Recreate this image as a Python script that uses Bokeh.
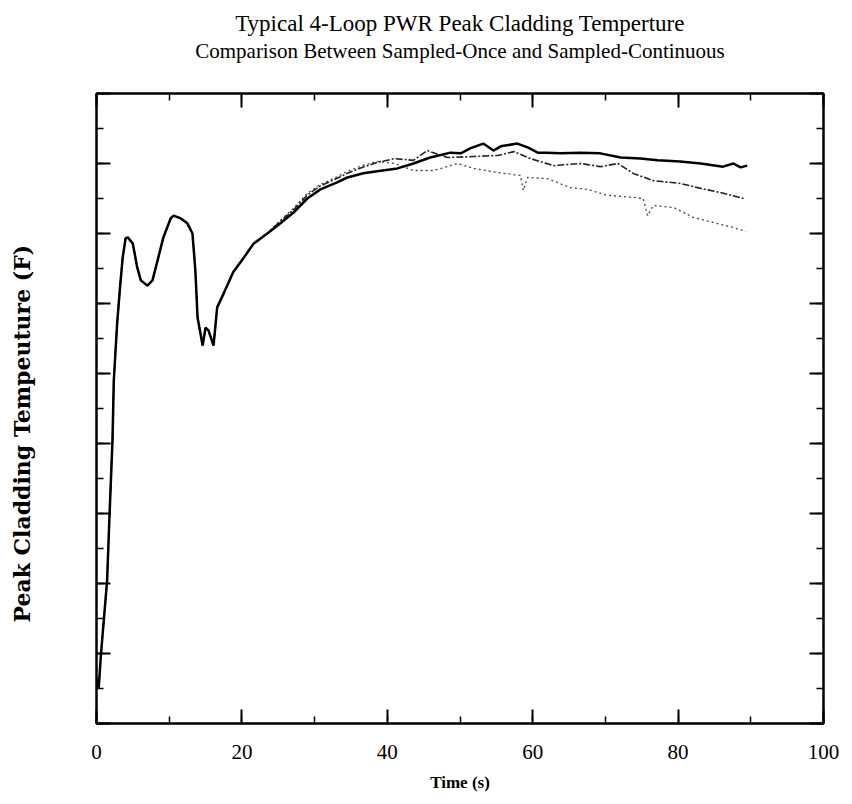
from bokeh.plotting import figure
from bokeh.models import (Range1d, LinearAxis, SingleIntervalTicker, CustomJSTickFormatter, Title)
from bokeh.embed import file_html
from bokeh.resources import INLINE

# ---- data (time in s, temperature in F) ----
time_shared = [0.0, 0.3, 0.6, 1.0, 1.46, 1.8, 2.2, 2.38, 2.84, 3.2, 3.6, 4.0, 4.3, 5.0, 5.6,
               6.1, 7.0, 7.7, 8.4, 9.2, 10.2, 10.6, 11.6, 12.5, 13.2, 13.6, 13.9, 14.6, 15.0,
               15.4, 16.1, 16.6, 17.5, 18.8, 20.2, 21.6, 23.5]
temp_shared = [529, 500, 594, 694, 809, 1000, 1209, 1380, 1543, 1637, 1731, 1786, 1789, 1771, 1703,
               1666, 1651, 1666, 1723, 1789, 1843, 1851, 1843, 1829, 1800, 1694, 1560, 1480, 1531,
               1523, 1480, 1589, 1629, 1689, 1729, 1771, 1800]

time_a = [25.3, 27.1, 29.0, 30.8, 33.1, 34.5, 36.7, 38.6, 41.4, 43.6, 45.9, 48.7, 50.1, 51.4,
          53.2, 54.6, 55.6, 57.9, 59.3, 60.7, 62.0, 63.8, 66.6, 69.3, 72.1, 74.8, 77.2, 80.3,
          83.1, 86.2, 87.6, 88.6, 89.5]
temp_a = [1829, 1860, 1900, 1926, 1946, 1960, 1972, 1978, 1986, 2000, 2017, 2031, 2029, 2043,
          2057, 2037, 2049, 2057, 2046, 2031, 2031, 2029, 2031, 2029, 2017, 2014, 2009, 2006,
          2000, 1991, 2000, 1989, 1994]

time_b = [25.3, 27.1, 29.0, 30.8, 33.1, 34.5, 36.7, 38.6, 41.0, 43.6, 45.5, 48.3, 51.9, 55.2,
          57.4, 59.7, 62.9, 66.6, 69.3, 71.7, 73.9, 76.6, 80.3, 83.1, 85.8, 89.0]
temp_b = [1835, 1868, 1910, 1936, 1958, 1972, 1990, 2003, 2014, 2009, 2037, 2017, 2020, 2023,
          2034, 2014, 1994, 2000, 1991, 2000, 1971, 1951, 1943, 1929, 1917, 1900]

time_c = [25.3, 27.1, 29.0, 30.8, 33.1, 34.5, 36.7, 38.6, 41.0, 43.6, 46.4, 49.7, 51.9, 55.2,
          58.3, 58.7, 59.3, 62.0, 65.2, 67.5, 70.3, 73.9, 75.2, 75.8, 76.6, 79.4, 82.1, 84.9,
          87.6, 89.3]
temp_c = [1838, 1872, 1915, 1940, 1962, 1978, 1995, 2006, 2000, 1980, 1980, 2000, 1986, 1974,
          1966, 1923, 1960, 1957, 1931, 1926, 1909, 1903, 1900, 1851, 1880, 1874, 1846, 1831,
          1817, 1806]

x_ticks_major = 20
y_ticks_major = 200

title_text = "Typical 4-Loop PWR Peak Cladding Temperture"
subtitle_text = "Comparison Between Sampled-Once and Sampled-Continuous"
x_label = "Time (s)"
y_label = "Peak Cladding Tempeuture (F)"

SERIF = "Liberation Serif"

p = figure(width=844, height=796, output_backend="svg", toolbar_location=None,
           x_range=Range1d(0, 100), y_range=Range1d(400, 2200),
           min_border_left=96, min_border_right=21, min_border_top=93, min_border_bottom=73,
           x_axis_type=None, y_axis_type=None)
p.grid.visible = False
p.outline_line_color = "black"
p.outline_line_width = 2
p.background_fill_color = "white"
p.border_fill_color = "white"

blank = CustomJSTickFormatter(code="return ''")

def style_axis(ax, labels=True):
    ax.axis_line_width = 2
    ax.axis_line_color = "black"
    ax.major_tick_in = 14
    ax.major_tick_out = 0
    ax.minor_tick_in = 7
    ax.minor_tick_out = 0
    ax.major_tick_line_width = 2
    ax.minor_tick_line_width = 1.5
    ax.major_tick_line_color = "black"
    ax.minor_tick_line_color = "black"
    if not labels:
        ax.formatter = blank
        ax.major_label_standoff = 0

def spacer_axis(interval, gap):
    # invisible axis whose only role is to reserve room between frame and titles
    ax = LinearAxis(ticker=SingleIntervalTicker(interval=interval, num_minor_ticks=0),
                    formatter=blank)
    ax.axis_line_color = None
    ax.major_tick_line_alpha = 0
    ax.minor_tick_line_alpha = 0
    ax.major_tick_in = 0
    ax.major_tick_out = gap
    ax.minor_tick_in = 0
    ax.minor_tick_out = 0
    ax.major_label_standoff = 0
    return ax

xb = LinearAxis(ticker=SingleIntervalTicker(interval=x_ticks_major, num_minor_ticks=2))
style_axis(xb)
xb.axis_label = x_label
xb.axis_label_text_font = SERIF
xb.axis_label_text_font_size = "17px"
xb.axis_label_text_font_style = "bold"
xb.axis_label_text_color = "black"
xb.axis_label_standoff = 11
xb.major_label_text_font = SERIF
xb.major_label_text_font_size = "21px"
xb.major_label_text_color = "black"
xb.major_label_standoff = 21
p.add_layout(xb, "below")

xt = LinearAxis(ticker=SingleIntervalTicker(interval=x_ticks_major, num_minor_ticks=2))
style_axis(xt, labels=False)
p.add_layout(xt, "above")
p.add_layout(spacer_axis(x_ticks_major, 31), "above")

yl = LinearAxis(ticker=SingleIntervalTicker(interval=y_ticks_major, num_minor_ticks=2))
style_axis(yl, labels=False)
p.add_layout(yl, "left")
p.add_layout(spacer_axis(y_ticks_major, 62), "left")

yr = LinearAxis(ticker=SingleIntervalTicker(interval=y_ticks_major, num_minor_ticks=2))
style_axis(yr, labels=False)
p.add_layout(yr, "right")

p.add_layout(Title(text=y_label, text_font="DejaVu Serif", text_font_size="22px",
                   text_font_style="bold", text_color="black", align="left",
                   offset=101, standoff=0), "left")

p.add_layout(Title(text=subtitle_text, text_font=SERIF, text_font_size="21px",
                   text_font_style="normal", text_color="black", align="center",
                   standoff=0), "above")
p.add_layout(Title(text=title_text, text_font=SERIF, text_font_size="23px",
                   text_font_style="normal", text_color="black", align="center",
                   standoff=2), "above")

# series
p.line(time_shared + time_c, temp_shared + temp_c, line_color="#444444", line_width=1.3,
       line_dash="2 3")
p.line(time_shared + time_b, temp_shared + temp_b, line_color="#222222", line_width=1.6,
       line_dash="7 2 2 2")
p.line(time_shared + time_a, temp_shared + temp_a, line_color="black", line_width=2.5)

open("out.html", "w").write(file_html(p, INLINE))
